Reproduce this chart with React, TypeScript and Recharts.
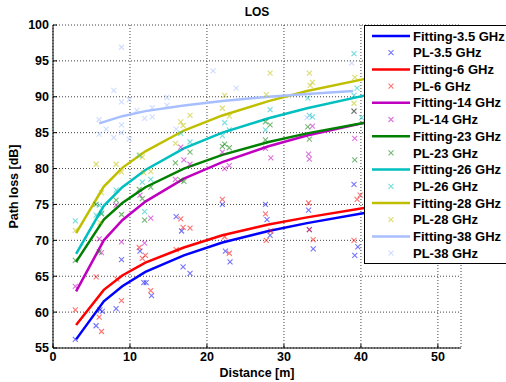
import React from 'react';
import { ComposedChart, Line, Scatter, XAxis, YAxis, CartesianGrid } from 'recharts';

const FONT = '"Liberation Sans", Arial, Helvetica, sans-serif';

// ---- axis ticks ----
const xTicks = [0, 10, 20, 30, 40, 50];
const yTicks = [55, 60, 65, 70, 75, 80, 85, 90, 95, 100];

// ---- fitted curves (distance in m, path loss in dB) ----
const fitDist = [3, 6.6, 9, 12, 17, 22, 28, 33, 41];
const fit35 = [56.2, 61.5, 63.6, 65.6, 67.9, 69.7, 71.3, 72.4, 73.9];
const fit6 = [58.2, 63.1, 65.1, 66.9, 69.0, 70.7, 72.2, 73.2, 74.6];
const fit14 = [62.9, 70.0, 72.8, 75.4, 78.6, 80.9, 83.1, 84.6, 86.5];
const fit23 = [67.0, 72.9, 75.2, 77.4, 80.0, 81.9, 83.7, 84.9, 86.5];
const fit26 = [68.1, 74.8, 77.4, 79.8, 82.8, 85.0, 87.0, 88.4, 90.3];
const fit28 = [71.0, 77.5, 80.1, 82.4, 85.3, 87.4, 89.4, 90.8, 92.6];
const fit38Dist = [6, 9, 12, 17, 22, 28, 33, 39];
const fit38 = [86.3, 87.3, 88.0, 88.8, 89.4, 90.0, 90.4, 90.8];

// ---- measured path loss ----
const pl35Dist = [2.9, 5.6, 6.1, 6.4, 8.2, 8.9, 11.3, 11.8, 12.1, 12.8, 16.0, 16.7, 16.9, 17.8, 22.0, 22.4, 23.0, 27.6, 27.8, 28.2, 33.2, 33.3, 33.8, 39.1, 39.2, 39.6];
const pl35Loss = [56.2, 58.1, 60.3, 60.1, 60.5, 67.3, 68.5, 64.1, 64.1, 62.3, 73.3, 71.3, 66.3, 65.4, 75.0, 68.5, 67.0, 75.0, 72.9, 70.7, 74.2, 71.5, 68.8, 77.8, 67.9, 69.1];

const pl6Dist = [2.9, 5.6, 6.0, 6.3, 8.3, 8.9, 11.2, 11.6, 12.0, 12.7, 16.0, 16.6, 16.9, 17.8, 22.0, 22.3, 22.9, 27.6, 27.7, 28.3, 33.2, 33.3, 33.8, 39.1, 39.5, 39.9];
const pl6Loss = [60.3, 64.9, 59.3, 57.3, 64.6, 61.6, 69.0, 67.5, 67.9, 63.0, 68.7, 73.0, 71.8, 71.7, 75.7, 70.5, 68.2, 73.7, 70.0, 71.3, 75.2, 71.5, 70.1, 70.0, 75.7, 76.3];

const pl14Dist = [2.9, 6.0, 6.3, 8.2, 8.9, 11.3, 11.9, 12.7, 15.9, 16.6, 17.0, 17.8, 22.0, 22.3, 22.9, 27.6, 28.3, 33.2, 33.3, 33.7, 39.1, 39.2];
const pl14Loss = [63.6, 70.2, 68.3, 74.9, 69.8, 76.3, 69.6, 73.1, 78.5, 83.0, 81.2, 80.6, 82.3, 80.0, 80.4, 82.8, 81.5, 82.0, 81.3, 85.9, 88.0, 84.2];

const pl23Dist = [2.9, 5.6, 6.0, 6.3, 8.2, 8.9, 11.2, 11.6, 11.9, 12.7, 15.9, 16.6, 17.0, 17.8, 22.0, 22.3, 22.9, 27.6, 27.6, 28.2, 33.1, 33.3, 39.1, 39.2];
const pl23Loss = [67.2, 75.0, 68.4, 73.7, 75.6, 73.6, 77.1, 75.8, 72.8, 77.4, 80.8, 78.4, 78.2, 82.3, 83.1, 83.4, 82.9, 86.5, 84.0, 86.1, 85.8, 84.1, 88.0, 81.2];

const pl26Dist = [2.9, 5.6, 6.0, 6.3, 8.2, 11.2, 11.6, 11.9, 12.7, 16.6, 17.8, 22.0, 22.3, 22.9, 27.6, 28.2, 33.1, 33.3, 33.7, 39.1, 39.1, 39.5, 40.1];
const pl26Loss = [72.7, 73.5, 74.9, 73.8, 77.0, 81.8, 78.1, 74.0, 78.5, 84.9, 83.7, 84.6, 86.4, 85.4, 85.4, 88.2, 89.8, 87.4, 87.2, 96.0, 90.2, 91.2, 87.1];

const pl28Dist = [2.9, 5.6, 6.1, 6.3, 8.2, 8.9, 11.3, 11.6, 11.8, 12.7, 15.9, 16.6, 16.9, 17.8, 22.0, 22.3, 22.9, 27.7, 28.2, 33.3, 33.4, 33.7, 39.1, 39.2];
const pl28Loss = [71.4, 80.6, 72.5, 76.6, 80.6, 79.5, 81.9, 81.6, 79.4, 79.6, 83.5, 86.5, 86.0, 87.4, 88.4, 90.2, 87.3, 90.3, 93.3, 93.3, 91.6, 92.0, 89.1, 92.7];

const pl38Dist = [6.0, 6.0, 6.9, 7.9, 7.9, 8.9, 8.9, 8.9, 8.9, 9.9, 9.9, 10.9, 11.9, 12.9, 12.9, 14.8, 14.8, 16.0, 20.8, 23.8, 33.0, 38.8];
const pl38Loss = [86.8, 84.8, 85.5, 90.9, 84.3, 96.9, 89.3, 86.1, 85.0, 89.6, 84.1, 88.1, 87.0, 88.5, 87.2, 89.9, 88.8, 85.5, 93.6, 91.2, 87.1, 94.7];

const bands = ['3.5', '6', '14', '23', '26', '28', '38'];
const colors = ['#0000ff', '#ff0000', '#c000c0', '#008000', '#00bfbf', '#bfbf00', '#a8bfff'];

const toPts = (xs: number[], ys: number[]) => xs.map((x, i) => ({ x, y: ys[i] }));

const fits = [
  toPts(fitDist, fit35),
  toPts(fitDist, fit6),
  toPts(fitDist, fit14),
  toPts(fitDist, fit23),
  toPts(fitDist, fit26),
  toPts(fitDist, fit28),
  toPts(fit38Dist, fit38),
];
const pls = [
  toPts(pl35Dist, pl35Loss),
  toPts(pl6Dist, pl6Loss),
  toPts(pl14Dist, pl14Loss),
  toPts(pl23Dist, pl23Loss),
  toPts(pl26Dist, pl26Loss),
  toPts(pl28Dist, pl28Loss),
  toPts(pl38Dist, pl38Loss),
];

const XMarkPath = ({ cx, cy, color }: { cx: number; cy: number; color: string }) => (
  <path
    d={`M${cx - 2.5},${cy - 2.5}L${cx + 2.5},${cy + 2.5}M${cx - 2.5},${cy + 2.5}L${cx + 2.5},${cy - 2.5}`}
    stroke={color}
    strokeOpacity={0.55}
    strokeWidth={1.1}
    fill="none"
  />
);

const makeShape = (color: string) => (p: any) => {
  if (p == null || p.cx == null || p.cy == null) return <g />;
  return <XMarkPath cx={p.cx} cy={p.cy} color={color} />;
};

const tickStyle = { fill: '#000', fontSize: 12.5, fontWeight: 'bold', fontFamily: FONT };

const Legend = () => {
  const rows: { label: string; color: string; kind: 'line' | 'mark' }[] = [];
  bands.forEach((b, i) => {
    rows.push({ label: `Fitting-${b} GHz`, color: colors[i], kind: 'line' });
    rows.push({ label: `PL-${b} GHz`, color: colors[i], kind: 'mark' });
  });
  return (
    <svg
      width={142}
      height={240}
      style={{ position: 'absolute', left: 364, top: 25 }}
    >
      <rect x={0.5} y={0.5} width={160} height={238} fill="#fff" stroke="#000" strokeWidth={1} />
      {rows.map((r, i) => {
        const cy = 11 + 16.7 * i;
        return (
          <g key={i}>
            {r.kind === 'line' ? (
              <line x1={8} x2={46} y1={cy} y2={cy} stroke={r.color} strokeWidth={2.5} />
            ) : (
              <XMarkPath cx={27} cy={cy} color={r.color} />
            )}
            <text
              x={49}
              y={cy + 4.6}
              fontFamily={FONT}
              fontSize={13}
              fontWeight="bold"
              fill="#000"
            >
              {r.label}
            </text>
          </g>
        );
      })}
    </svg>
  );
};

export default function App() {
  return (
    <div
      style={{
        position: 'absolute',
        left: 0,
        top: 0,
        width: 506,
        height: 382,
        background: '#fff',
        overflow: 'hidden',
      }}
    >
      <ComposedChart width={506} height={382} margin={{ top: 25, right: 45, bottom: 0, left: 0 }}>
        <CartesianGrid stroke="#000" strokeDasharray="1 2" strokeOpacity={0.75} />
        <XAxis
          dataKey="x"
          type="number"
          domain={[0, 53]}
          ticks={xTicks}
          allowDataOverflow
          height={34}
          tickSize={-4}
          tickMargin={8}
          axisLine={{ stroke: '#000' }}
          tickLine={{ stroke: '#000' }}
          tick={tickStyle}
          label={{
            value: 'Distance [m]',
            position: 'insideBottom',
            offset: 5,
            fill: '#000',
            fontSize: 12.5,
            fontWeight: 'bold',
            fontFamily: FONT,
          }}
        />
        <XAxis
          xAxisId="top"
          orientation="top"
          dataKey="x"
          type="number"
          domain={[0, 53]}
          ticks={xTicks}
          allowDataOverflow
          height={0}
          tickSize={-4}
          axisLine={{ stroke: '#000' }}
          tickLine={{ stroke: '#000' }}
          tick={false}
        />
        <YAxis
          type="number"
          domain={[55, 100]}
          ticks={yTicks}
          allowDataOverflow
          width={53}
          tickSize={-4}
          tickMargin={8}
          axisLine={{ stroke: '#000' }}
          tickLine={{ stroke: '#000' }}
          tick={tickStyle}
          label={{
            value: 'Path loss [dB]',
            angle: -90,
            position: 'insideLeft',
            offset: 14,
            fill: '#000',
            fontSize: 12.5,
            fontWeight: 'bold',
            fontFamily: FONT,
            style: { textAnchor: 'middle' },
          }}
        />
        <YAxis
          yAxisId="right"
          orientation="right"
          type="number"
          domain={[55, 100]}
          ticks={yTicks}
          allowDataOverflow
          width={0}
          tickSize={-4}
          axisLine={{ stroke: '#000' }}
          tickLine={{ stroke: '#000' }}
          tick={false}
        />
        {bands.flatMap((b, i) => [
          <Line
            key={`fit-${b}`}
            data={fits[i]}
            dataKey="y"
            type="linear"
            stroke={colors[i]}
            strokeWidth={2.5}
            dot={false}
            activeDot={false}
            isAnimationActive={false}
          />,
          <Scatter
            key={`pl-${b}`}
            data={pls[i]}
            dataKey="y"
            shape={makeShape(colors[i])}
            isAnimationActive={false}
          />,
        ])}
      </ComposedChart>
      <div
        style={{
          position: 'absolute',
          left: 207,
          top: 5,
          width: 100,
          textAlign: 'center',
          fontFamily: FONT,
          fontSize: 12,
          fontWeight: 'bold',
          lineHeight: '14px',
          color: '#000',
        }}
      >
        LOS
      </div>
      <Legend />
    </div>
  );
}
